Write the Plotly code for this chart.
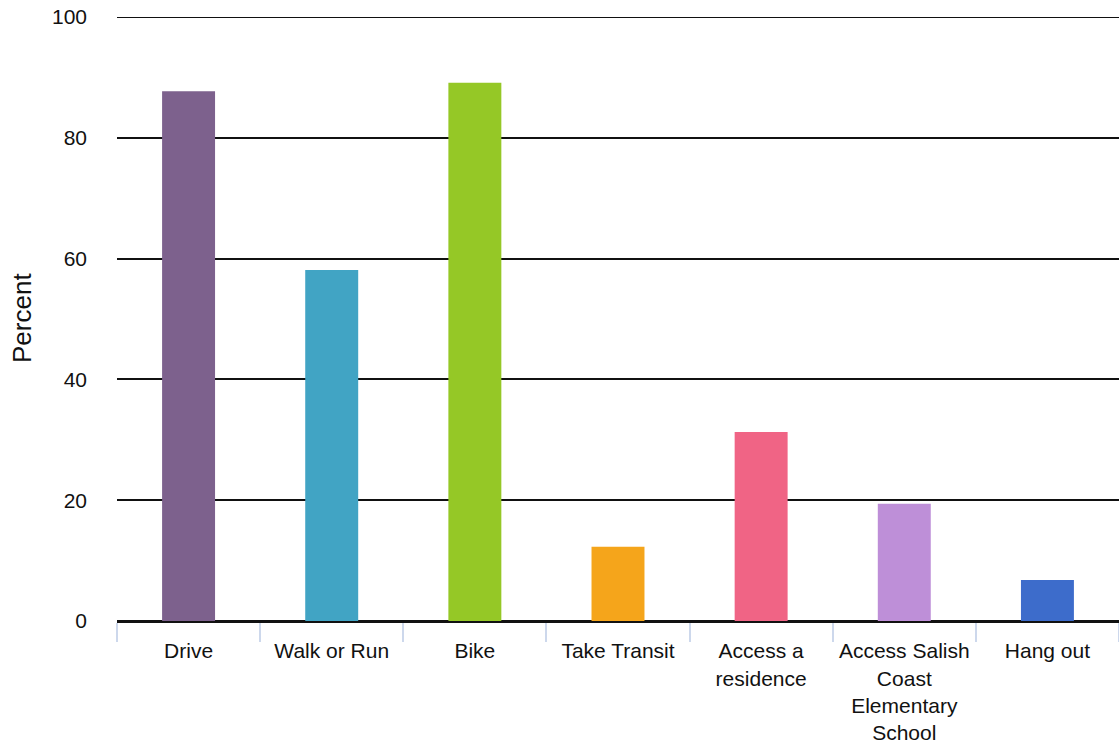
import plotly.graph_objects as go

# Survey: how people use the corridor
categories = [
    "Drive",
    "Walk or Run",
    "Bike",
    "Take Transit",
    "Access a<br>residence",
    "Access Salish<br>Coast<br>Elementary<br>School",
    "Hang out",
]
percent = [87.7, 58.1, 89.1, 12.3, 31.3, 19.4, 6.8]
bar_colors = ["#7d618d", "#41a4c4", "#95c826", "#f5a51b", "#f06485", "#be8fd8", "#3d6ccb"]
y_ticks = [0, 20, 40, 60, 80, 100]

fig = go.Figure(
    go.Bar(
        x=categories,
        y=percent,
        marker=dict(color=bar_colors, line=dict(width=0)),
        hoverinfo="x+y",
    )
)

font_family = "Liberation Sans, Arial, Helvetica, sans-serif"

fig.update_layout(
    width=1119,
    height=744,
    margin=dict(l=117, r=0, t=17, b=123),
    paper_bgcolor="white",
    plot_bgcolor="white",
    bargap=0.63,
    showlegend=False,
    font=dict(family=font_family, size=21, color="#111111"),
    xaxis=dict(
        type="category",
        tickson="boundaries",
        ticks="outside",
        ticklen=19,
        tickwidth=2,
        tickcolor="#cdd8ec",
        showgrid=False,
        showline=True,
        linecolor="#111111",
        linewidth=2,
        tickfont=dict(family=font_family, size=21, color="#111111"),
        ticklabelstandoff=10,
        fixedrange=True,
    ),
    yaxis=dict(
        range=[0, 100],
        tickvals=y_ticks,
        showgrid=True,
        gridcolor="#111111",
        gridwidth=2,
        zeroline=True,
        zerolinecolor="#111111",
        zerolinewidth=2,
        showline=False,
        ticks="",
        ticklabelstandoff=29,
        tickfont=dict(family=font_family, size=21, color="#111111"),
        fixedrange=True,
    ),
    # top gridline sits on the edge of the plot area, so draw it explicitly
    shapes=[
        dict(
            type="line",
            xref="paper",
            yref="y",
            x0=0,
            x1=1,
            y0=y_ticks[-1],
            y1=y_ticks[-1],
            line=dict(color="#111111", width=2),
            layer="below",
        )
    ],
    annotations=[
        dict(
            text="Percent",
            textangle=-90,
            xref="paper",
            yref="paper",
            x=(22 - 117) / 1002,
            y=(621 - 318) / 604,
            xanchor="center",
            yanchor="middle",
            showarrow=False,
            font=dict(family=font_family, size=26, color="#111111"),
        )
    ],
)

fig.write_html("out.html")
